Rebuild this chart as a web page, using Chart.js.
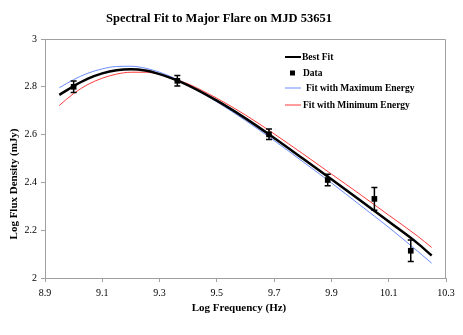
<!DOCTYPE html>
<html>
<head>
<meta charset="utf-8">
<script src="https://cdn.jsdelivr.net/npm/chart.js@4.4.1/dist/chart.umd.min.js"></script>
<style>
html, body { margin: 0; padding: 0; background: #fff; }
</style>
</head>
<body>
<canvas id="chart" width="463" height="335"></canvas>
<script>
// values
const fitFreq = [8.95, 9.0, 9.05, 9.1, 9.15, 9.2, 9.25, 9.3, 9.35, 9.4, 9.5, 9.6, 9.7, 9.8, 9.9, 10.0, 10.1, 10.2, 10.25];
const bestFit = [2.766, 2.803, 2.834, 2.856, 2.869, 2.873, 2.868, 2.853, 2.832, 2.806, 2.742, 2.668, 2.586, 2.500, 2.413, 2.325, 2.236, 2.146, 2.094];
const maxEnergyFit = [2.796, 2.830, 2.857, 2.875, 2.885, 2.886, 2.878, 2.861, 2.837, 2.807, 2.737, 2.659, 2.575, 2.487, 2.398, 2.305, 2.212, 2.113, 2.062];
const minEnergyFit = [2.722, 2.772, 2.810, 2.836, 2.853, 2.861, 2.861, 2.852, 2.834, 2.812, 2.752, 2.682, 2.603, 2.520, 2.435, 2.350, 2.263, 2.176, 2.128];

const dataFreq = [9.0, 9.362, 9.682, 9.887, 10.05, 10.177];
const dataFlux = [2.80, 2.825, 2.601, 2.41, 2.331, 2.114];
const dataErr = [0.024, 0.022, 0.022, 0.024, 0.048, 0.045];

const xTicks = [8.9, 9.1, 9.3, 9.5, 9.7, 9.9, 10.1, 10.3];
const yTicks = [2, 2.2, 2.4, 2.6, 2.8, 3];

const titleText = "Spectral Fit to Major Flare on MJD 53651";
const xTitle = "Log Frequency (Hz)";
const yTitle = "Log Flux Density (mJy)";

const serif = "'Liberation Serif', 'Times New Roman', serif";
const axisGray = "#a0a0a0";

function pairs(xs, ys) {
    return xs.map((x, i) => ({ x: x, y: ys[i] }));
}

let errorBars = {
    id: "errorBars",
    afterDatasetsDraw(chart) {
        let ctx = chart.ctx;
        let xs = chart.scales.x, ys = chart.scales.y;
        ctx.save();
        ctx.strokeStyle = "#000";
        ctx.lineWidth = 1.5;
        dataFreq.forEach((f, i) => {
            let px = xs.getPixelForValue(f);
            let top = ys.getPixelForValue(dataFlux[i] + dataErr[i]);
            let bot = ys.getPixelForValue(dataFlux[i] - dataErr[i]);
            ctx.beginPath();
            ctx.moveTo(px, top); ctx.lineTo(px, bot);
            ctx.moveTo(px - 3, top); ctx.lineTo(px + 3, top);
            ctx.moveTo(px - 3, bot); ctx.lineTo(px + 3, bot);
            ctx.stroke();
        });
        ctx.restore();
    }
};

let decorations = {
    id: "decorations",
    afterDraw(chart) {
        let ctx = chart.ctx;
        let a = chart.chartArea;
        ctx.save();

        // frame on top and right
        ctx.strokeStyle = axisGray;
        ctx.lineWidth = 1;
        ctx.beginPath();
        ctx.moveTo(a.left, a.top + 0.5);
        ctx.lineTo(a.right - 0.5, a.top + 0.5);
        ctx.lineTo(a.right - 0.5, a.bottom);
        ctx.stroke();

        ctx.fillStyle = "#000";
        ctx.textAlign = "center";
        ctx.textBaseline = "middle";

        ctx.font = "bold 12.5px " + serif;
        ctx.fillText(titleText, 219, 19);

        ctx.font = "bold 11px " + serif;
        ctx.fillText(xTitle, 239, 308);

        ctx.save();
        ctx.translate(14, 184);
        ctx.rotate(-Math.PI / 2);
        ctx.fillText(yTitle, 0, 0);
        ctx.restore();

        // legend
        ctx.font = "bold 9.5px " + serif;
        ctx.textAlign = "left";
        let rows = [
            { label: "Best Fit", kind: "line", color: "#000", width: 2, y: 57, tx: 302 },
            { label: "Data", kind: "box", color: "#000", y: 73, tx: 303 },
            { label: "Fit with Maximum Energy", kind: "line", color: "#6a8cff", width: 1, y: 88, tx: 306 },
            { label: "Fit with Minimum Energy", kind: "line", color: "#ff3b3b", width: 1, y: 105, tx: 303 }
        ];
        rows.forEach(r => {
            if (r.kind === "line") {
                ctx.strokeStyle = r.color;
                ctx.lineWidth = r.width;
                ctx.beginPath();
                ctx.moveTo(285, r.y);
                ctx.lineTo(301, r.y);
                ctx.stroke();
            } else {
                ctx.fillStyle = r.color;
                ctx.fillRect(290, r.y - 2.5, 5, 5);
            }
            ctx.fillStyle = "#000";
            ctx.fillText(r.label, r.tx, r.y + 1);
        });

        ctx.restore();
    }
};

new Chart(document.getElementById("chart"), {
    type: "scatter",
    data: {
        datasets: [
            {
                label: "Data",
                data: pairs(dataFreq, dataFlux),
                pointStyle: "rect",
                pointRadius: 4,
                backgroundColor: "#000",
                borderColor: "#000",
                borderWidth: 0
            },
            {
                label: "Best Fit",
                type: "line",
                data: pairs(fitFreq, bestFit),
                borderColor: "#000",
                borderWidth: 2.5,
                pointRadius: 0,
                cubicInterpolationMode: "monotone",
                fill: false
            },
            {
                label: "Fit with Maximum Energy",
                type: "line",
                data: pairs(fitFreq, maxEnergyFit),
                borderColor: "#6a8cff",
                borderWidth: 1,
                pointRadius: 0,
                cubicInterpolationMode: "monotone",
                fill: false
            },
            {
                label: "Fit with Minimum Energy",
                type: "line",
                data: pairs(fitFreq, minEnergyFit),
                borderColor: "#ff3b3b",
                borderWidth: 1,
                pointRadius: 0,
                cubicInterpolationMode: "monotone",
                fill: false
            }
        ]
    },
    options: {
        responsive: false,
        animation: false,
        layout: { autoPadding: false, padding: { left: 0, right: 17, top: 39, bottom: 0 } },
        plugins: {
            legend: { display: false },
            tooltip: { enabled: false },
            title: { display: false }
        },
        scales: {
            x: {
                type: "linear",
                min: 8.9,
                max: 10.3,
                afterBuildTicks: s => { s.ticks = xTicks.map(v => ({ value: v })); },
                afterFit: s => { s.height = 57; },
                grid: { drawOnChartArea: false, drawTicks: true, tickLength: 4, color: axisGray },
                border: { display: true, color: axisGray },
                ticks: {
                    color: "#000",
                    padding: 5,
                    maxRotation: 0,
                    font: { family: serif, size: 10 },
                    callback: v => v.toFixed(1)
                }
            },
            y: {
                type: "linear",
                min: 2,
                max: 3,
                afterBuildTicks: s => { s.ticks = yTicks.map(v => ({ value: v })); },
                afterFit: s => { s.width = 45; },
                grid: { drawOnChartArea: false, drawTicks: true, tickLength: 4, color: axisGray },
                border: { display: true, color: axisGray },
                ticks: {
                    color: "#000",
                    padding: 4,
                    font: { family: serif, size: 10 },
                    callback: v => String(v)
                }
            }
        }
    },
    plugins: [errorBars, decorations]
});
</script>
</body>
</html>
